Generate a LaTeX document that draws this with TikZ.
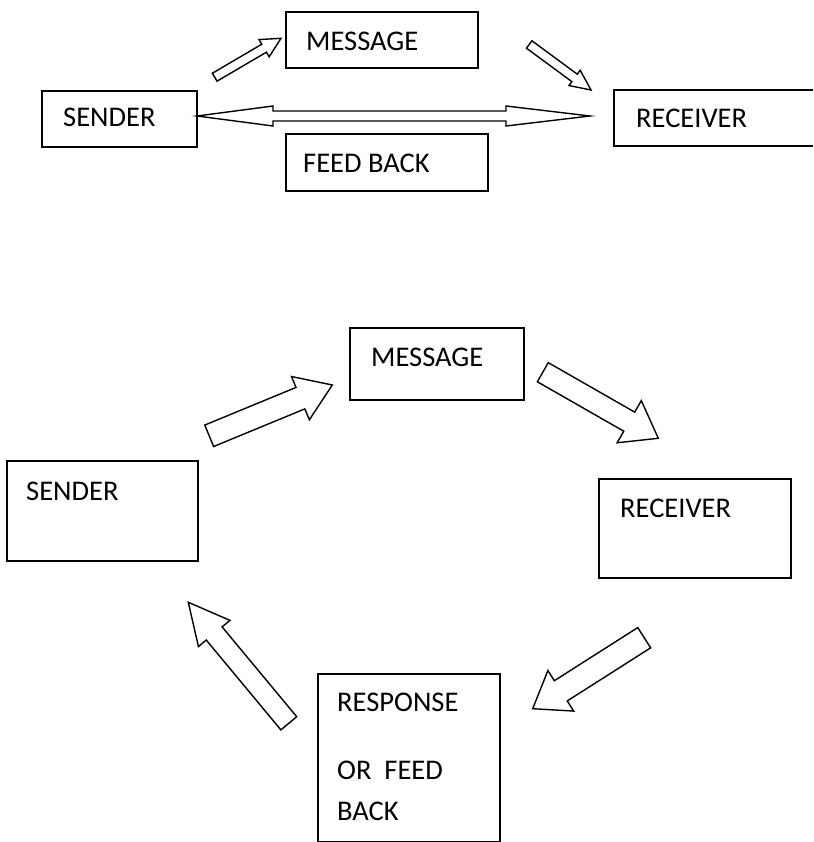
\documentclass[tikz,border=0pt]{standalone}
\usepackage{fontspec}
\setmainfont{Carlito}
\usetikzlibrary{calc}

% Outlined block arrow: #1 name, #2 tail centre, #3 tip,
% #4 half shaft width, #5 half head width, #6 head length
\newcommand\blockarrow[6]{%
  \coordinate (#1-h) at ($(#3)!#6!(#2)$);
  \draw[arrowline] ($(#2)!#4!90:(#3)$) -- ($(#1-h)!#4!90:(#3)$)
    -- ($(#1-h)!#5!90:(#3)$) -- (#3) -- ($(#1-h)!#5!-90:(#3)$)
    -- ($(#1-h)!#4!-90:(#3)$) -- ($(#2)!#4!-90:(#3)$) -- cycle;
}

\begin{document}
\begin{tikzpicture}[x=1pt,y=-1pt,
  box/.style={draw, line width=1.6pt, inner sep=0pt, anchor=north west},
  lbl/.style={font=\fontsize{28.5}{34}\selectfont, inner sep=0pt, anchor=base west},
  arrowline/.style={draw, line width=1.4pt, line join=miter, fill=white}]
\useasboundingbox (0,0) rectangle (813,842);

% ---------- simple model ----------
\node[box, minimum width=192pt, minimum height=56pt] (msgA) at (285,11) {};
\node[box, minimum width=155pt, minimum height=56pt] (sndA) at (41,90) {};
\node[box, minimum width=202pt, minimum height=57pt] (fbA) at (285,133) {};
\draw[line width=1.6pt] (813,90) -| (614,146) -- (813,146);
\coordinate (rcvA) at (614,90);

\node[lbl] (msgAt) at (306,51) {MESSAGE};
\node[lbl] (sndAt) at (63,127) {SENDER};
\node[lbl] (rcvAt) at (636,128) {RECEIVER};
\node[lbl] (fbAt) at (303,173) {FEED BACK};

\coordinate (a1t) at (214.7,77.2);  \coordinate (a1h) at (281,38.3);
\coordinate (a2t) at (529.2,44.5);  \coordinate (a2h) at (591,90);
\blockarrow{a1}{a1t}{a1h}{4.6pt}{10pt}{19.6pt}
\blockarrow{a2}{a2t}{a2h}{4.6pt}{9.5pt}{20.4pt}

% two-way arrow between sender and receiver
\coordinate (fbL) at (197,116);
\coordinate (fbR) at (590,116);
\draw[arrowline] (fbL) -- ++(76,-10) -- ++(0,5) -- ($(fbR)+(-84,-5)$)
  -- ++(0,-5) -- (fbR) -- ++(-84,10) -- ++(0,-5) -- ($(fbL)+(76,5)$)
  -- ++(0,5) -- cycle;

% ---------- cyclic model ----------
\node[box, minimum width=174pt, minimum height=72pt] (msgB) at (349,327) {};
\node[box, minimum width=191pt, minimum height=100pt] (sndB) at (6,460) {};
\node[box, minimum width=192pt, minimum height=99pt] (rcvB) at (598,478) {};
\node[box, minimum width=182pt, minimum height=168pt] (rspB) at (317,673) {};

\node[lbl] (msgBt) at (371,366) {MESSAGE};
\node[lbl] (sndBt) at (26,500) {SENDER};
\node[lbl] (rcvBt) at (620,517) {RECEIVER};
\node[lbl] (rspBt1) at (337,711) {RESPONSE};
\node[lbl] (rspBt2) at (337,779) {OR\ \ FEED};
\node[lbl] (rspBt3) at (337,820) {BACK};

\coordinate (bAt) at (209.2,435.8); \coordinate (bAh) at (332.3,385);
\coordinate (bBt) at (542.8,372.2); \coordinate (bBh) at (658.3,438.3);
\coordinate (bCt) at (644.2,637.7); \coordinate (bCh) at (532.7,708.7);
\coordinate (bDt) at (288.8,723.3); \coordinate (bDh) at (188.3,602.3);
\blockarrow{bA}{bAt}{bAh}{11.6pt}{23.4pt}{34.5pt}
\blockarrow{bB}{bBt}{bBh}{11pt}{24.3pt}{33.5pt}
\blockarrow{bC}{bCt}{bCh}{12pt}{24pt}{33.3pt}
\blockarrow{bD}{bDt}{bDh}{10.3pt}{20.5pt}{40.5pt}
\end{tikzpicture}
\end{document}
